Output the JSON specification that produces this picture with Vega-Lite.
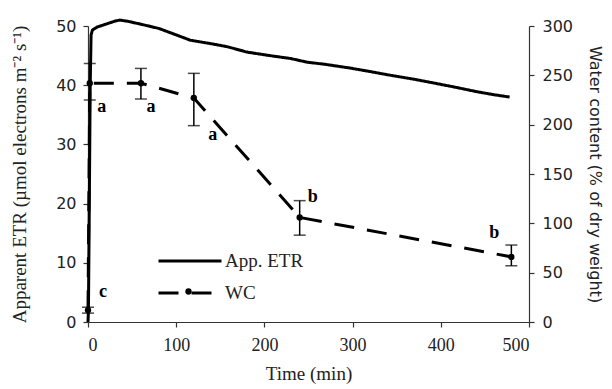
{
  "$schema": "https://vega.github.io/schema/vega-lite/v6.json",
  "width": 441,
  "height": 296,
  "autosize": {"type": "none"},
  "padding": {"left": 88, "top": 26, "right": 83, "bottom": 67},
  "background": "white",
  "config": {
    "view": {"stroke": null},
    "axis": {"grid": false, "domainColor": "#333", "tickColor": "#333", "labelColor": "#222", "titleColor": "#222", "domainWidth": 1.2, "tickWidth": 1.2, "tickSize": 5},
    "legend": {"orient": "none", "title": null, "symbolType": "stroke", "symbolSize": 3969, "symbolStrokeWidth": 3, "symbolStrokeColor": "black", "labelFont": "Liberation Serif", "labelFontSize": 19, "labelColor": "#222", "labelOffset": 2, "padding": 0}
  },
  "datasets": {
    "etr": [
      {"time": 0, "etr": 0}, {"time": 0.5, "etr": 2}, {"time": 1.5, "etr": 20}, {"time": 2.5, "etr": 40},
      {"time": 3.5, "etr": 48.5}, {"time": 5, "etr": 49.3}, {"time": 10, "etr": 49.8}, {"time": 20, "etr": 50.3},
      {"time": 30, "etr": 50.8}, {"time": 36, "etr": 51.0}, {"time": 45, "etr": 50.8}, {"time": 60, "etr": 50.3},
      {"time": 80, "etr": 49.6}, {"time": 100, "etr": 48.5}, {"time": 116, "etr": 47.6}, {"time": 140, "etr": 47.0},
      {"time": 158, "etr": 46.5}, {"time": 180, "etr": 45.6}, {"time": 206, "etr": 45.0}, {"time": 230, "etr": 44.5},
      {"time": 248, "etr": 43.9}, {"time": 270, "etr": 43.5}, {"time": 297, "etr": 42.9}, {"time": 320, "etr": 42.3},
      {"time": 342, "etr": 41.7}, {"time": 370, "etr": 41.0}, {"time": 391, "etr": 40.4}, {"time": 415, "etr": 39.7},
      {"time": 441, "etr": 38.9}, {"time": 460, "etr": 38.4}, {"time": 478, "etr": 38.0}
    ],
    "wc": [
      {"time": 0, "wc": 12, "lo": 9, "hi": 15, "letter": "c"},
      {"time": 2, "wc": 242, "lo": 225, "hi": 262, "letter": "a"},
      {"time": 60, "wc": 242, "lo": 226, "hi": 257, "letter": "a"},
      {"time": 120, "wc": 227, "lo": 199, "hi": 252, "letter": "a"},
      {"time": 240, "wc": 106, "lo": 88, "hi": 123, "letter": "b"},
      {"time": 480, "wc": 66, "lo": 57, "hi": 78, "letter": "b"}
    ]
  },
  "layer": [
    {
      "data": {"name": "etr"},
      "mark": {"type": "line", "color": "black", "strokeWidth": 3},
      "encoding": {
        "x": {"field": "time", "type": "quantitative", "scale": {"domain": [0, 500], "nice": false},
          "axis": {"values": [0, 100, 200, 300, 400, 500], "title": "Time (min)", "labelFont": "Liberation Serif", "labelFontSize": 18, "labelPadding": 9, "titleFont": "Liberation Serif", "titleFontSize": 19, "titleFontWeight": "normal", "titlePadding": 10}},
        "y": {"field": "etr", "type": "quantitative", "scale": {"domain": [0, 50], "nice": false},
          "axis": {"orient": "left", "values": [0, 10, 20, 30, 40, 50], "title": "Apparent ETR (µmol electrons m⁻² s⁻¹)", "labelFont": "DejaVu Sans", "labelFontSize": 16, "labelPadding": 7, "titleFont": "Liberation Serif", "titleFontSize": 19, "titleFontWeight": "normal", "titlePadding": 26}},
        "strokeDash": {"datum": "App. ETR", "type": "nominal",
          "scale": {"domain": ["App. ETR"], "range": [[1, 0]]},
          "legend": {"legendX": 69, "legendY": 202}}
      }
    },
    {
      "data": {"name": "wc"},
      "layer": [
        {
          "mark": {"type": "line", "color": "black", "strokeWidth": 3},
          "encoding": {
            "x": {"field": "time", "type": "quantitative"},
            "y": {"field": "wc", "type": "quantitative", "scale": {"domain": [0, 300], "nice": false},
              "axis": {"orient": "right", "values": [0, 50, 100, 150, 200, 250, 300], "title": "Water content (% of dry weight)", "labelFont": "DejaVu Sans", "labelFontSize": 16, "labelPadding": 8, "titleFont": "DejaVu Sans", "titleFontSize": 16, "titleFontWeight": "normal", "titlePadding": 14}},
            "strokeDash": {"datum": "WC", "type": "nominal",
              "scale": {"domain": ["WC"], "range": [[20, 13]]},
              "legend": {"legendX": 69, "legendY": 234}}
          }
        },
        {
          "mark": {"type": "rule", "color": "black", "strokeWidth": 1.5},
          "encoding": {
            "x": {"field": "time", "type": "quantitative"},
            "y": {"field": "lo", "type": "quantitative"},
            "y2": {"field": "hi"}
          }
        },
        {
          "mark": {"type": "tick", "color": "black", "orient": "horizontal", "size": 12, "thickness": 1.5},
          "encoding": {
            "x": {"field": "time", "type": "quantitative"},
            "y": {"field": "lo", "type": "quantitative"}
          }
        },
        {
          "mark": {"type": "tick", "color": "black", "orient": "horizontal", "size": 12, "thickness": 1.5},
          "encoding": {
            "x": {"field": "time", "type": "quantitative"},
            "y": {"field": "hi", "type": "quantitative"}
          }
        },
        {
          "mark": {"type": "point", "filled": true, "color": "black", "size": 40, "opacity": 1},
          "encoding": {
            "x": {"field": "time", "type": "quantitative"},
            "y": {"field": "wc", "type": "quantitative"},
            "shape": {"datum": "WC", "type": "nominal", "scale": {"range": ["circle"]},
              "legend": {"legendX": 97, "legendY": 262, "symbolType": "circle", "symbolSize": 40, "symbolFillColor": "black", "symbolStrokeColor": "black", "symbolStrokeWidth": 0, "symbolOpacity": 1, "labelOpacity": 0, "labelFontSize": 4}}
          }
        },
        {
          "transform": [{"filter": "datum.time == 0"}],
          "mark": {"type": "text", "font": "Liberation Serif", "fontWeight": "bold", "fontSize": 18, "dx": 15, "dy": -18, "color": "black"},
          "encoding": {"x": {"field": "time", "type": "quantitative"}, "y": {"field": "wc", "type": "quantitative"}, "text": {"field": "letter"}}
        },
        {
          "transform": [{"filter": "datum.time == 2"}],
          "mark": {"type": "text", "font": "Liberation Serif", "fontWeight": "bold", "fontSize": 18, "dx": 12, "dy": 24, "color": "black"},
          "encoding": {"x": {"field": "time", "type": "quantitative"}, "y": {"field": "wc", "type": "quantitative"}, "text": {"field": "letter"}}
        },
        {
          "transform": [{"filter": "datum.time == 60"}],
          "mark": {"type": "text", "font": "Liberation Serif", "fontWeight": "bold", "fontSize": 18, "dx": 10, "dy": 24, "color": "black"},
          "encoding": {"x": {"field": "time", "type": "quantitative"}, "y": {"field": "wc", "type": "quantitative"}, "text": {"field": "letter"}}
        },
        {
          "transform": [{"filter": "datum.time == 120"}],
          "mark": {"type": "text", "font": "Liberation Serif", "fontWeight": "bold", "fontSize": 18, "dx": 19, "dy": 37, "color": "black"},
          "encoding": {"x": {"field": "time", "type": "quantitative"}, "y": {"field": "wc", "type": "quantitative"}, "text": {"field": "letter"}}
        },
        {
          "transform": [{"filter": "datum.time == 240"}],
          "mark": {"type": "text", "font": "Liberation Serif", "fontWeight": "bold", "fontSize": 18, "dx": 13, "dy": -20, "color": "black"},
          "encoding": {"x": {"field": "time", "type": "quantitative"}, "y": {"field": "wc", "type": "quantitative"}, "text": {"field": "letter"}}
        },
        {
          "transform": [{"filter": "datum.time == 480"}],
          "mark": {"type": "text", "font": "Liberation Serif", "fontWeight": "bold", "fontSize": 18, "dx": -17, "dy": -24, "color": "black"},
          "encoding": {"x": {"field": "time", "type": "quantitative"}, "y": {"field": "wc", "type": "quantitative"}, "text": {"field": "letter"}}
        }
      ]
    }
  ],
  "resolve": {"scale": {"y": "independent", "strokeDash": "independent"}, "legend": {"strokeDash": "independent"}}
}
